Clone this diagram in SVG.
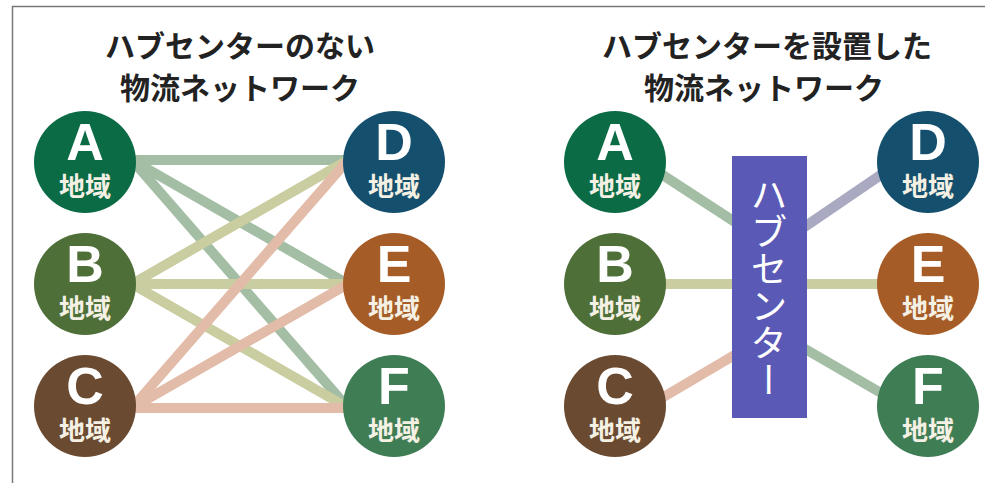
<svg xmlns="http://www.w3.org/2000/svg" width="985" height="483" viewBox="0 0 985 483">
<style>
.title{font-family:"Noto Sans CJK JP","Liberation Sans",sans-serif;font-weight:700;font-size:30px;fill:#222;text-anchor:middle}
.let{font-family:"Liberation Sans",Arial,sans-serif;font-weight:700;font-size:52px;fill:#fff;text-anchor:middle}
.reg{font-family:"Noto Sans CJK JP","Liberation Sans",sans-serif;font-weight:700;font-size:26px;fill:#f4f0e4;text-anchor:middle}
.hubt{font-family:"Noto Sans CJK JP","Liberation Sans",sans-serif;font-size:37px;fill:#fff;writing-mode:vertical-rl;text-anchor:start}
.ln{stroke-width:10;fill:none}
.g{stroke:#a3bea4}
.y{stroke:#c9cd9f}
.p{stroke:#e2bba9}
.v{stroke:#aaa9c2}
</style>
<rect x="0" y="0" width="985" height="483" fill="#fff"/>
<path d="M12.5 483 V6.5 H985" fill="none" stroke="#777" stroke-width="1.5"/>
<g id="titles">
<text class="title" x="240" y="57">ハブセンターのない</text>
<text class="title" x="240" y="99">物流ネットワーク</text>
<text class="title" x="767" y="57">ハブセンターを設置した</text>
<text class="title" x="764" y="99">物流ネットワーク</text>
</g>
<g id="connectors">
<line class="ln g" x1="132" y1="160" x2="348" y2="160"/>
<line class="ln g" x1="132" y1="160" x2="348" y2="284"/>
<line class="ln g" x1="132" y1="160" x2="348" y2="408"/>
<line class="ln y" x1="132" y1="284" x2="348" y2="160"/>
<line class="ln y" x1="132" y1="284" x2="348" y2="284"/>
<line class="ln y" x1="132" y1="284" x2="348" y2="408"/>
<line class="ln p" x1="132" y1="408" x2="348" y2="160"/>
<line class="ln p" x1="132" y1="408" x2="348" y2="284"/>
<line class="ln p" x1="132" y1="408" x2="348" y2="408"/>
<line class="ln g" x1="655" y1="170" x2="738" y2="224"/>
<line class="ln y" x1="655" y1="284" x2="738" y2="284"/>
<line class="ln p" x1="655" y1="402" x2="738" y2="353"/>
<line class="ln v" x1="800" y1="230" x2="888" y2="170"/>
<line class="ln y" x1="800" y1="284" x2="888" y2="284"/>
<line class="ln g" x1="800" y1="346" x2="888" y2="397"/>
</g>
<g id="hub">
<rect x="732" y="156" width="75" height="262" fill="#5a5ab6"/>
<text class="hubt" x="769" y="176">ハブセンター</text>
</g>
<g id="L-A"><circle cx="85" cy="162" r="51" fill="#0b6b45"/><text class="let" x="85" y="160">A</text><text class="reg" x="85" y="196">地域</text></g>
<g id="L-B"><circle cx="85" cy="284" r="51" fill="#4f6f38"/><text class="let" x="85" y="282">B</text><text class="reg" x="85" y="318">地域</text></g>
<g id="L-C"><circle cx="85" cy="406" r="51" fill="#6a4a30"/><text class="let" x="85" y="404">C</text><text class="reg" x="85" y="440">地域</text></g>
<g id="L-D"><circle cx="394" cy="162" r="51" fill="#14506e"/><text class="let" x="394" y="160">D</text><text class="reg" x="394" y="196">地域</text></g>
<g id="L-E"><circle cx="394" cy="284" r="51" fill="#a65c26"/><text class="let" x="394" y="282">E</text><text class="reg" x="394" y="318">地域</text></g>
<g id="L-F"><circle cx="394" cy="406" r="51" fill="#3f7d55"/><text class="let" x="394" y="404">F</text><text class="reg" x="394" y="440">地域</text></g>
<g id="R-A"><circle cx="615" cy="162" r="51" fill="#0b6b45"/><text class="let" x="615" y="160">A</text><text class="reg" x="615" y="196">地域</text></g>
<g id="R-B"><circle cx="615" cy="284" r="51" fill="#4f6f38"/><text class="let" x="615" y="282">B</text><text class="reg" x="615" y="318">地域</text></g>
<g id="R-C"><circle cx="615" cy="406" r="51" fill="#6a4a30"/><text class="let" x="615" y="404">C</text><text class="reg" x="615" y="440">地域</text></g>
<g id="R-D"><circle cx="928" cy="162" r="51" fill="#14506e"/><text class="let" x="928" y="160">D</text><text class="reg" x="928" y="196">地域</text></g>
<g id="R-E"><circle cx="928" cy="284" r="51" fill="#a65c26"/><text class="let" x="928" y="282">E</text><text class="reg" x="928" y="318">地域</text></g>
<g id="R-F"><circle cx="928" cy="406" r="51" fill="#3f7d55"/><text class="let" x="928" y="404">F</text><text class="reg" x="928" y="440">地域</text></g>
</svg>
